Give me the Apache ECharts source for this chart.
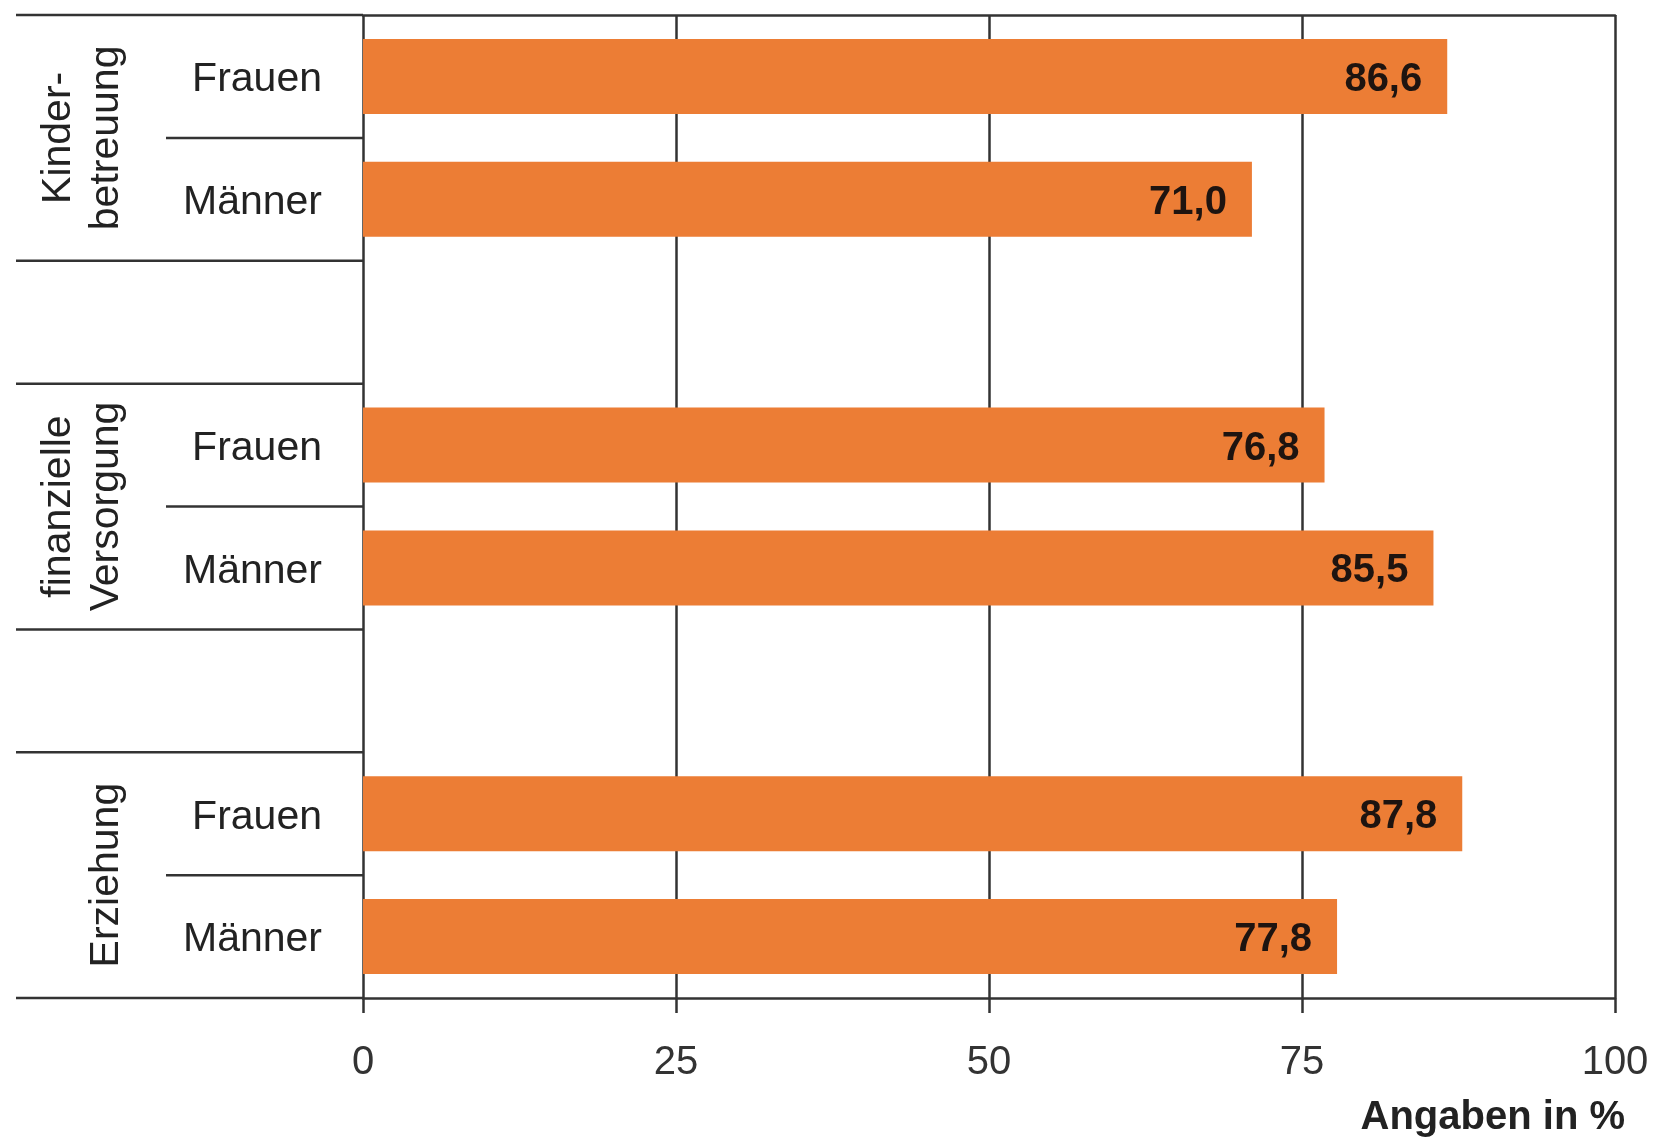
<!DOCTYPE html>
<html>
<head>
<meta charset="utf-8">
<script src="https://cdn.jsdelivr.net/npm/echarts@6/dist/echarts.min.js"></script>
<style>
  html, body { margin: 0; padding: 0; background: #ffffff; }
  #chart { width: 1656px; height: 1138px; }
</style>
</head>
<body>
<div id="chart"></div>
<script>
// Survey shares (percent) per area, women vs. men
const groupNames = ['Kinder-\nbetreuung', 'finanzielle\nVersorgung', 'Erziehung'];
const genderNames = ['Frauen', 'Männer'];
const frauenValues = [86.6, 76.8, 87.8];
const maennerValues = [71.0, 85.5, 77.8];
const xTickValues = [0, 25, 50, 75, 100];
const unitLabel = 'Angaben in %';

// One row per bar, with an empty spacer row between groups
const rowLabels = [];
const rowValues = [];
const groupFirstRow = [];
groupNames.forEach((g, i) => {
  if (i > 0) { rowLabels.push(''); rowValues.push(null); }
  groupFirstRow.push(rowLabels.length);
  rowLabels.push(genderNames[0]); rowValues.push(frauenValues[i]);
  rowLabels.push(genderNames[1]); rowValues.push(maennerValues[i]);
});

const FONT = '"Liberation Sans", Arial, Helvetica, sans-serif';
const RULE = '#333333';
const RULE_W = 2.5;
const fmt = v => v.toFixed(1).replace('.', ',');

const chart = echarts.init(document.getElementById('chart'), null, { renderer: 'canvas' });

chart.setOption({
  animation: false,
  backgroundColor: '#ffffff',
  textStyle: { fontFamily: FONT },
  title: {
    text: unitLabel,
    right: 26,
    top: 1093,
    textStyle: { fontFamily: FONT, fontSize: 40, fontWeight: 'bold', color: '#222' }
  },
  grid: { left: 363, right: 41, top: 15, bottom: 140, containLabel: false, outerBoundsMode: 'none' },
  xAxis: [{
    type: 'value',
    min: xTickValues[0],
    max: xTickValues[xTickValues.length - 1],
    interval: xTickValues[1] - xTickValues[0],
    position: 'bottom',
    axisLine: { show: true, lineStyle: { color: RULE, width: RULE_W } },
    axisTick: { show: true, length: 15, lineStyle: { color: RULE, width: RULE_W } },
    splitLine: { show: true, lineStyle: { color: RULE, width: RULE_W } },
    axisLabel: { fontFamily: FONT, fontSize: 40, color: '#333', margin: 45, showMinLabel: true, showMaxLabel: true }
  }, {
    type: 'value',
    min: xTickValues[0],
    max: xTickValues[xTickValues.length - 1],
    position: 'top',
    axisLine: { show: true, lineStyle: { color: RULE, width: RULE_W } },
    axisTick: { show: false },
    axisLabel: { show: false },
    splitLine: { show: false }
  }],
  yAxis: {
    type: 'category',
    inverse: true,
    data: rowLabels,
    axisLine: { show: false },
    axisTick: { show: false },
    splitLine: { show: false },
    axisLabel: {
      margin: 41,
      formatter: v => v ? '{t|' + v + '}' : '',
      rich: { t: { fontFamily: FONT, fontSize: 41, color: '#222', padding: [7, 0, 0, 0] } }
    }
  },
  series: [{
    type: 'bar',
    data: rowValues,
    barWidth: '61%',
    itemStyle: { color: '#EC7D35' },
    label: {
      show: true,
      position: 'insideRight',
      distance: 25,
      formatter: p => '{v|' + fmt(p.value) + '}',
      rich: { v: { fontFamily: FONT, fontSize: 40, fontWeight: 'bold', color: '#1e1410', padding: [7, 0, 0, 0] } }
    },
    z: 3
  }, {
    // Row rules and rotated group titles in the label column
    type: 'custom',
    silent: true,
    clip: false,
    encode: { x: 0, y: 1 },
    data: groupFirstRow.map(r => [0, r]),
    renderItem: (params, api) => {
      const r0 = api.value(1);
      const band = api.size([0, 1])[1];
      const left = params.coordSys.x;
      const yTop = api.coord([0, r0])[1] - band / 2;
      const yMid = yTop + band;
      const yBot = yTop + 2 * band;
      const outerX = left - 347;
      const innerX = left - 197;
      const children = [[outerX, yTop], [innerX, yMid], [outerX, yBot]].map(([x, y]) => ({
        type: 'line',
        shape: { x1: x, y1: y, x2: left, y2: y },
        style: { stroke: RULE, lineWidth: RULE_W }
      }));
      const label = groupNames[params.dataIndex];
      const twoLines = label.indexOf('\n') >= 0;
      children.push({
        type: 'text',
        x: left - (twoLines ? 280 : 256),
        y: (yTop + yBot) / 2,
        rotation: Math.PI / 2,
        style: {
          text: label,
          fill: '#222',
          fontFamily: FONT,
          fontSize: 41,
          lineHeight: 48,
          align: 'center',
          verticalAlign: 'middle'
        }
      });
      return { type: 'group', children };
    },
    z: 4
  }]
});
</script>
</body>
</html>
